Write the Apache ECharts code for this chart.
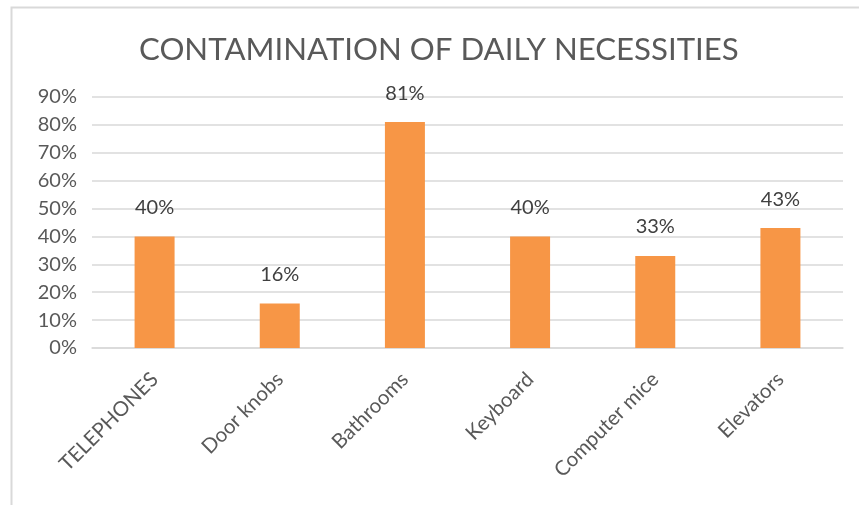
<!DOCTYPE html>
<html><head><meta charset="utf-8">
<script src="https://cdn.jsdelivr.net/npm/echarts@6/dist/echarts.min.js"></script>
<style>html,body{margin:0;padding:0;background:#fff}#c{width:859px;height:505px}</style>
</head><body><div id="c"></div>
<script>
const categories = ["TELEPHONES", "Door knobs", "Bathrooms", "Keyboard", "Computer mice", "Elevators"];
const values = [40, 16, 81, 40, 33, 43];
const yTicks = { min: 0, max: 90, interval: 10 };
const titleText = "CONTAMINATION OF DAILY NECESSITIES";

const chart = echarts.init(document.getElementById('c'));
const font = 'Lato, "Open Sans", sans-serif';
chart.setOption({
  animation: false,
  graphic: [{
    type: 'rect', shape: { x: 11.5, y: 7.5, width: 900, height: 600 },
    style: { fill: 'none', stroke: '#d9d9d9', lineWidth: 2 }, z: -1
  }],
  title: {
    text: titleText, left: 134, top: 29,
    textStyle: { fontFamily: font, fontSize: 31.2, fontWeight: 'normal', color: '#595959' }
  },
  grid: { left: 92, right: 16, top: 97, bottom: 157 },
  xAxis: {
    type: 'category', data: categories,
    axisLine: { lineStyle: { color: '#d9d9d9', width: 1.5 } },
    axisTick: { show: false },
    axisLabel: { rotate: 45, fontFamily: font, fontSize: 20.5, color: '#595959', margin: 28, interval: 0 }
  },
  yAxis: {
    type: 'value', min: yTicks.min, max: yTicks.max, interval: yTicks.interval,
    axisLine: { show: false }, axisTick: { show: false },
    splitLine: { lineStyle: { color: '#d9d9d9', width: 1.5 } },
    axisLabel: { formatter: v => v + '%', fontFamily: font, fontSize: 20, color: '#595959', margin: 15 }
  },
  series: [{
    type: 'bar', data: values, barWidth: 40,
    itemStyle: { color: '#F79646' },
    label: { show: true, position: 'top', distance: 19, formatter: p => p.value + '%',
      fontFamily: font, fontSize: 20, color: '#404040' }
  }]
});
</script></body></html>
